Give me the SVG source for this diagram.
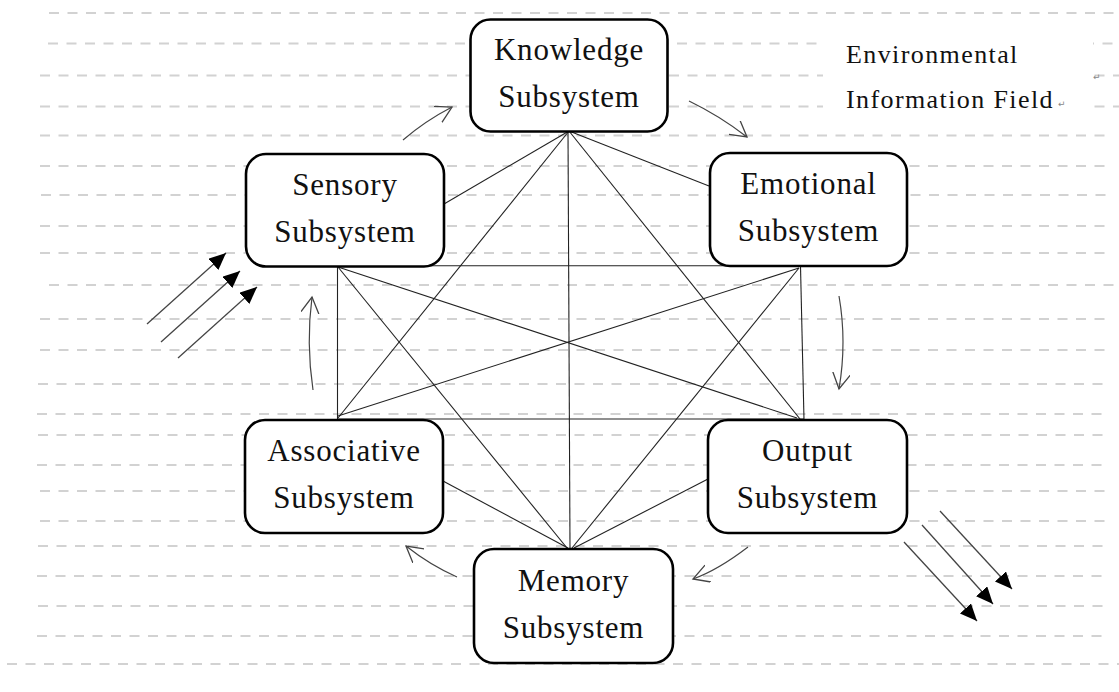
<svg xmlns="http://www.w3.org/2000/svg" width="1119" height="692" viewBox="0 0 1119 692">
<style>
.bg{fill:#ffffff}
.dash{stroke:#d2d2d2;stroke-width:2;stroke-dasharray:10 8.5;fill:none}
.box{fill:#ffffff;stroke:#000;stroke-width:2.6}
.lbl{font-family:"Liberation Serif","Times New Roman",serif;font-size:31px;letter-spacing:0.8px;fill:#111;text-anchor:middle}
.env{font-family:"Liberation Serif","Times New Roman",serif;font-size:26px;letter-spacing:1.4px;fill:#111}
.pm{font-family:"DejaVu Sans",sans-serif;font-size:9px;fill:#888}
.edge{stroke:#222;stroke-width:1.1;fill:none}
.flow{stroke:#444;stroke-width:1.2;fill:none;marker-end:url(#open)}
.io{stroke:#444;stroke-width:1.3;fill:none;marker-end:url(#solid)}
</style>
<defs>
<marker id="open" markerUnits="userSpaceOnUse" markerWidth="18" markerHeight="20" refX="16" refY="9" orient="auto">
<path d="M0,0 L16,9 L0,18" fill="none" stroke="#444" stroke-width="1.3"/>
</marker>
<marker id="solid" markerUnits="userSpaceOnUse" markerWidth="18" markerHeight="16" refX="17" refY="7.5" orient="auto">
<path d="M0,0 L17,7.5 L0,15 z" fill="#000"/>
</marker>
</defs>
<rect class="bg" x="0" y="0" width="1119" height="692"/>
<g id="ruled-lines">
<line class="dash" x1="49" y1="13" x2="1119" y2="13"/>
<line class="dash" x1="48" y1="43.5" x2="1119" y2="43.5"/>
<line class="dash" x1="40" y1="75.5" x2="1119" y2="75.5"/>
<line class="dash" x1="40" y1="106.5" x2="1119" y2="106.5"/>
<line class="dash" x1="40" y1="135.5" x2="1113" y2="135.5"/>
<line class="dash" x1="40" y1="166" x2="1113" y2="166"/>
<line class="dash" x1="41" y1="195" x2="1113" y2="195"/>
<line class="dash" x1="40" y1="226" x2="1113" y2="226"/>
<line class="dash" x1="40" y1="253" x2="1113" y2="253"/>
<line class="dash" x1="49" y1="285" x2="1119" y2="285"/>
<line class="dash" x1="40" y1="319" x2="1113" y2="319"/>
<line class="dash" x1="40" y1="350" x2="1113" y2="350"/>
<line class="dash" x1="38" y1="384" x2="1108" y2="384"/>
<line class="dash" x1="37" y1="414" x2="1108" y2="414"/>
<line class="dash" x1="38" y1="435" x2="1108" y2="435"/>
<line class="dash" x1="37" y1="465" x2="1108" y2="465"/>
<line class="dash" x1="40" y1="491" x2="1110" y2="491"/>
<line class="dash" x1="40" y1="521" x2="1110" y2="521"/>
<line class="dash" x1="38" y1="546" x2="1108" y2="546"/>
<line class="dash" x1="37" y1="576" x2="1108" y2="576"/>
<line class="dash" x1="38" y1="606" x2="1108" y2="606"/>
<line class="dash" x1="37" y1="636" x2="1108" y2="636"/>
<line class="dash" x1="7" y1="664" x2="1119" y2="664"/>
</g>
<g id="environment-label">
<rect x="823" y="28" width="270" height="96" fill="#fff"/>
<text class="env" x="846" y="63">Environmental</text>
<text class="env" x="846" y="108">Information Field</text>
<text class="pm" x="1058" y="107">↵</text>
<text class="pm" x="1093" y="80">↵</text>
</g>
<g id="connectors">
<line class="edge" x1="569" y1="131" x2="444" y2="204"/>
<line class="edge" x1="569" y1="131" x2="709" y2="186"/>
<line class="edge" x1="569" y1="131" x2="338" y2="418"/>
<line class="edge" x1="569" y1="131" x2="800" y2="419"/>
<line class="edge" x1="568" y1="131" x2="570" y2="548"/>
<line class="edge" x1="338" y1="265.7" x2="800" y2="265.7"/>
<line class="edge" x1="337.5" y1="266" x2="337.5" y2="419"/>
<line class="edge" x1="800.5" y1="266" x2="804" y2="420"/>
<line class="edge" x1="337.5" y1="419" x2="804" y2="419"/>
<line class="edge" x1="338" y1="267" x2="797" y2="418"/>
<line class="edge" x1="799" y1="268" x2="338" y2="416"/>
<line class="edge" x1="338" y1="267" x2="567" y2="548"/>
<line class="edge" x1="799" y1="268" x2="572" y2="548"/>
<line class="edge" x1="443" y1="481" x2="568" y2="548"/>
<line class="edge" x1="708" y1="479" x2="574" y2="548"/>
<path class="flow" d="M403,140 Q425,121 452,107"/>
<path class="flow" d="M689,101 Q720,116 747,137"/>
<path class="flow" d="M839,296 Q847,342 839,389"/>
<path class="flow" d="M748,547 Q718,570 693,579"/>
<path class="flow" d="M457,577 Q430,565 406,546"/>
<path class="flow" d="M313,390 Q306,343 312,297"/>
<line class="io" x1="147" y1="324" x2="226" y2="253"/>
<line class="io" x1="161" y1="342" x2="240" y2="271"/>
<line class="io" x1="178" y1="358" x2="257" y2="287"/>
<line class="io" x1="940" y1="511" x2="1012" y2="589"/>
<line class="io" x1="922" y1="525" x2="993" y2="604"/>
<line class="io" x1="904" y1="542" x2="977" y2="621"/>
</g>
<g id="knowledge">
<rect class="box" x="470.5" y="19.5" width="197" height="112" rx="20"/>
<text class="lbl" x="569" y="60">Knowledge</text>
<text class="lbl" x="569" y="107">Subsystem</text>
</g>
<g id="sensory">
<rect class="box" x="246" y="154" width="198" height="112.5" rx="20"/>
<text class="lbl" x="345" y="195">Sensory</text>
<text class="lbl" x="345" y="242">Subsystem</text>
</g>
<g id="emotional">
<rect class="box" x="710" y="153" width="197" height="113" rx="20"/>
<text class="lbl" x="808.5" y="194">Emotional</text>
<text class="lbl" x="808.5" y="241">Subsystem</text>
</g>
<g id="associative">
<rect class="box" x="245" y="420" width="198" height="113" rx="20"/>
<text class="lbl" x="344" y="461">Associative</text>
<text class="lbl" x="344" y="508">Subsystem</text>
</g>
<g id="output">
<rect class="box" x="708" y="420" width="199" height="113" rx="20"/>
<text class="lbl" x="807.5" y="461">Output</text>
<text class="lbl" x="807.5" y="508">Subsystem</text>
</g>
<g id="memory">
<rect class="box" x="474" y="549" width="199" height="114" rx="20"/>
<text class="lbl" x="573.5" y="590.5">Memory</text>
<text class="lbl" x="573.5" y="637.5">Subsystem</text>
</g>
</svg>
